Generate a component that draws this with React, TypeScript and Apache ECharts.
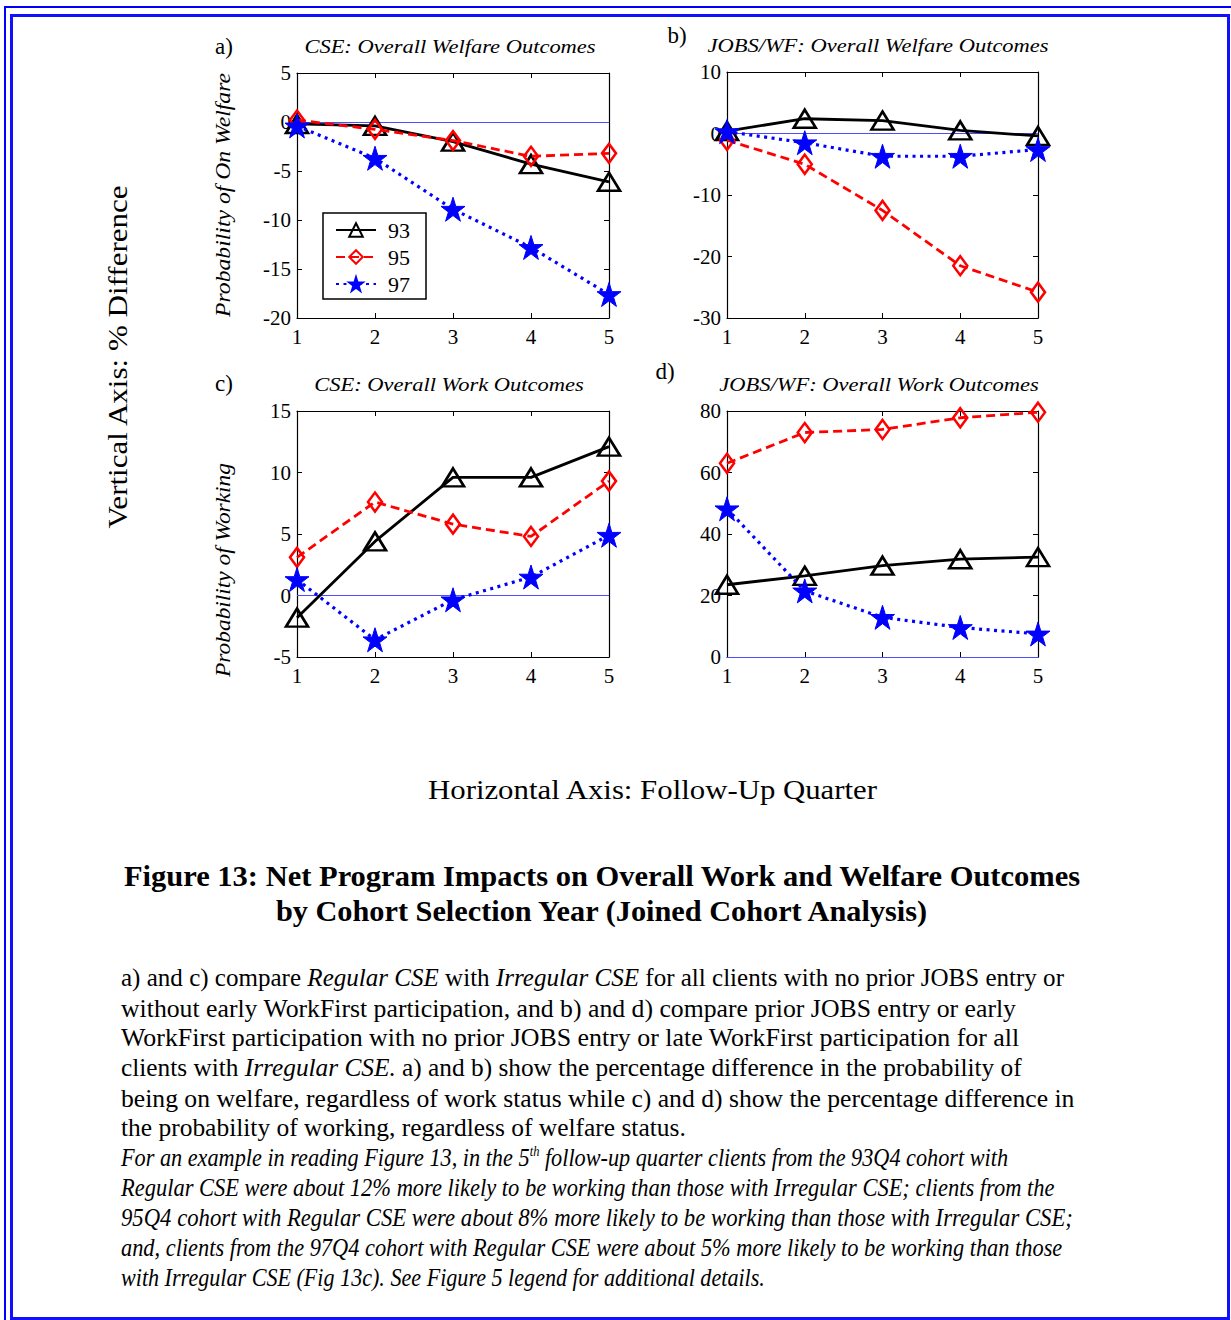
import React, { useEffect, useRef } from 'react';
import * as echarts from 'echarts';

// ---------------- data ----------------
const QUARTERS = [1, 2, 3, 4, 5];
const COHORTS = ['93', '95', '97'];

// a) CSE: Overall Welfare Outcomes
const WELFARE_CSE_93 = [-0.2, -0.4, -2.0, -4.3, -6.1];
const WELFARE_CSE_95 = [0.2, -0.75, -1.9, -3.5, -3.2];
const WELFARE_CSE_97 = [-0.4, -3.7, -8.9, -12.8, -17.6];
// b) JOBS/WF: Overall Welfare Outcomes
const WELFARE_JOBS_93 = [0.4, 2.4, 2.1, 0.5, -0.4];
const WELFARE_JOBS_95 = [-1.1, -5.0, -12.5, -21.5, -25.8];
const WELFARE_JOBS_97 = [0.3, -1.5, -3.7, -3.7, -2.6];
// c) CSE: Overall Work Outcomes
const WORK_CSE_93 = [-1.8, 4.4, 9.6, 9.6, 12.1];
const WORK_CSE_95 = [3.1, 7.6, 5.8, 4.8, 9.3];
const WORK_CSE_97 = [1.3, -3.6, -0.35, 1.5, 4.9];
// d) JOBS/WF: Overall Work Outcomes
const WORK_JOBS_93 = [23.5, 26.4, 29.7, 31.8, 32.5];
const WORK_JOBS_95 = [63.0, 73.0, 74.0, 77.8, 79.6];
const WORK_JOBS_97 = [48.2, 21.5, 12.9, 9.6, 7.5];

const PANEL_VALUES = [
  [WELFARE_CSE_93, WELFARE_CSE_95, WELFARE_CSE_97],
  [WELFARE_JOBS_93, WELFARE_JOBS_95, WELFARE_JOBS_97],
  [WORK_CSE_93, WORK_CSE_95, WORK_CSE_97],
  [WORK_JOBS_93, WORK_JOBS_95, WORK_JOBS_97],
];
const PANEL_TITLES = [
  'CSE: Overall Welfare Outcomes',
  'JOBS/WF: Overall Welfare Outcomes',
  'CSE: Overall Work Outcomes',
  'JOBS/WF: Overall Work Outcomes',
];
const PANEL_LETTERS = ['a)', 'b)', 'c)', 'd)'];
const Y_MIN = [-20, -30, -5, 0];
const Y_MAX = [5, 10, 15, 80];
const Y_STEP = [5, 10, 5, 20];
const Y_NAMES = ['Probability of On Welfare', '', 'Probability of Working', ''];

const VERTICAL_LABEL = 'Vertical Axis: % Difference';
const HORIZONTAL_LABEL = 'Horizontal Axis: Follow-Up Quarter';
const FIG_TITLE = [
  'Figure 13: Net Program Impacts on Overall Work and Welfare Outcomes',
  'by Cohort Selection Year (Joined Cohort Analysis)',
];

type Seg = [string, string];
const BODY_LINES: Seg[][] = [
  [['n', 'a) and c) compare '], ['i', 'Regular CSE'], ['n', ' with '], ['i', 'Irregular CSE'], ['n', ' for all clients with no prior JOBS entry or']],
  [['n', 'without early WorkFirst participation, and b) and d) compare prior JOBS entry or early']],
  [['n', 'WorkFirst participation with no prior JOBS entry or late WorkFirst participation for all']],
  [['n', 'clients with '], ['i', 'Irregular CSE.'], ['n', ' a) and b) show the percentage difference in the probability of']],
  [['n', 'being on welfare, regardless of work status while c) and d) show the percentage difference in']],
  [['n', 'the probability of working, regardless of welfare status.']],
  [['i', 'For an example in reading Figure 13, in the 5'], ['s', 'th'], ['i', ' follow-up quarter clients from the 93Q4 cohort with']],
  [['i', 'Regular CSE were about 12% more likely to be working than those with Irregular CSE; clients from the']],
  [['i', '95Q4 cohort with Regular CSE were about 8% more likely to be working than those with Irregular CSE;']],
  [['i', 'and, clients from the 97Q4 cohort with Regular CSE were about 5% more likely to be working than those']],
  [['i', 'with Irregular CSE (Fig 13c). See Figure 5 legend for additional details.']],
];

// ---------------- layout ----------------
const SERIF = '"Liberation Serif", "Times New Roman", serif';
const GRIDS = [
  { left: 297, top: 73, width: 312, height: 245 },
  { left: 727, top: 72, width: 311, height: 246 },
  { left: 297, top: 411, width: 312, height: 246 },
  { left: 727, top: 411, width: 311, height: 246 },
];
const TITLE_POS = [[450, 47], [878, 46], [449, 385], [879, 385]];
const TITLE_W = [316, 375, 295, 352];
const LETTER_POS = [[224, 46], [677, 35], [224, 383], [665, 371]];
const YNAME_POS = [[223, 195], [0, 0], [223, 570], [0, 0]];
const YNAME_W = [244, 0, 214, 0];
const BODY_LEFT = 121;
const BODY_TOP = 978;
const BODY_STEP = 30;
const BODY_RIGHT = [1064, 1017, 1020, 1022, 1075, 686, 1008, 1055, 1073, 1063, 765];

const STAR =
  'path://M0,-10L2.245,-3.09L9.51,-3.09L3.633,1.18L5.88,8.09L0,3.82L-5.88,8.09L-3.633,1.18L-9.51,-3.09L-2.245,-3.09Z';

const SERIES_STYLE = [
  {
    symbol: 'triangle',
    symbolSize: [22, 18],
    itemStyle: { color: 'rgba(255,255,255,0)', borderColor: '#000', borderWidth: 2.6 },
    lineStyle: { color: '#000', width: 2.8, type: 'solid' },
  },
  {
    symbol: 'diamond',
    symbolSize: [14, 19],
    itemStyle: { color: 'rgba(255,255,255,0)', borderColor: '#ff0000', borderWidth: 2.6 },
    lineStyle: { color: '#ff0000', width: 2.8, type: [9, 5] },
  },
  {
    symbol: STAR,
    symbolSize: 24,
    itemStyle: { color: '#0000ff', borderColor: '#0000ff', borderWidth: 1 },
    lineStyle: { color: '#0000ff', width: 3.2, type: [3, 4.5] },
  },
];

let measureCtx: CanvasRenderingContext2D | null = null;
function measure(text: string, font: string): number {
  if (!measureCtx) measureCtx = document.createElement('canvas').getContext('2d');
  if (!measureCtx) return text.length * 10;
  measureCtx.font = font;
  return measureCtx.measureText(text).width;
}
function fontStr(size: number, italic: boolean, bold: boolean) {
  return `${italic ? 'italic ' : ''}${bold ? 'bold ' : ''}${size}px "Liberation Serif"`;
}

function buildGraphic() {
  const els: any[] = [];
  const fitted = (text: string, size: number, italic: boolean, bold: boolean, width: number) =>
    width / measure(text, fontStr(size, italic, bold));

  // frame
  els.push({
    type: 'rect', silent: true,
    shape: { x: 5, y: 7, width: 1260, height: 1400 },
    style: { fill: 'none', stroke: '#0000ff', lineWidth: 2 },
  });
  els.push({
    type: 'rect', silent: true,
    shape: { x: 11.5, y: 15.5, width: 1217, height: 1303 },
    style: { fill: 'none', stroke: '#1010ff', lineWidth: 3 },
  });

  // panel letters, titles, y names
  for (let i = 0; i < 4; i++) {
    els.push({
      type: 'text', silent: true, x: LETTER_POS[i][0], y: LETTER_POS[i][1],
      style: { text: PANEL_LETTERS[i], fontFamily: SERIF, fontSize: 23, fill: '#000', align: 'center', verticalAlign: 'middle' },
    });
    const tScale = Math.min(1.25, fitted(PANEL_TITLES[i], 18, true, false, TITLE_W[i]));
    els.push({
      type: 'text', silent: true, x: TITLE_POS[i][0], y: TITLE_POS[i][1], scaleX: tScale,
      style: { text: PANEL_TITLES[i], fontFamily: SERIF, fontSize: 18, fontStyle: 'italic', fill: '#000', align: 'center', verticalAlign: 'middle' },
    });
    if (Y_NAMES[i]) {
      const yScale = Math.min(1.2, fitted(Y_NAMES[i], 21, true, false, YNAME_W[i]));
      els.push({
        type: 'text', silent: true, x: YNAME_POS[i][0], y: YNAME_POS[i][1], rotation: Math.PI / 2, scaleX: yScale,
        style: { text: Y_NAMES[i], fontFamily: SERIF, fontSize: 21, fontStyle: 'italic', fill: '#000', align: 'center', verticalAlign: 'middle' },
      });
    }
  }

  // vertical axis label
  els.push({
    type: 'text', silent: true, x: 118, y: 357, rotation: Math.PI / 2,
    scaleX: fitted(VERTICAL_LABEL, 27, false, false, 345),
    style: { text: VERTICAL_LABEL, fontFamily: SERIF, fontSize: 27, fill: '#000', align: 'center', verticalAlign: 'middle' },
  });
  // horizontal axis label
  els.push({
    type: 'text', silent: true, x: 652.5, y: 790,
    scaleX: fitted(HORIZONTAL_LABEL, 27, false, false, 451),
    style: { text: HORIZONTAL_LABEL, fontFamily: SERIF, fontSize: 27, fill: '#000', align: 'center', verticalAlign: 'middle' },
  });
  // figure title
  const titleW = [958, 655];
  const titleX = [602, 601.5];
  const titleY = [876, 911];
  FIG_TITLE.forEach((t, k) => {
    els.push({
      type: 'text', silent: true, x: titleX[k], y: titleY[k],
      scaleX: fitted(t, 30, false, true, titleW[k]),
      style: { text: t, fontFamily: SERIF, fontSize: 30, fontWeight: 'bold', fill: '#000', align: 'center', verticalAlign: 'middle' },
    });
  });

  // body text
  const BS = 25;
  const rich: any = {
    n: { fontFamily: SERIF, fontSize: BS, fontStyle: 'normal', fill: '#000', lineHeight: 28 },
    i: { fontFamily: SERIF, fontSize: BS, fontStyle: 'italic', fill: '#000', lineHeight: 28 },
    s: { fontFamily: SERIF, fontSize: 14, fontStyle: 'italic', fill: '#000', lineHeight: 16, verticalAlign: 'top' },
  };
  BODY_LINES.forEach((segs, k) => {
    let w = 0;
    segs.forEach(([st, t]) => {
      w += measure(t, fontStr(st === 's' ? 14 : BS, st !== 'n', false));
    });
    const target = BODY_RIGHT[k] - BODY_LEFT;
    els.push({
      type: 'text', silent: true, x: BODY_LEFT, y: BODY_TOP + k * BODY_STEP,
      scaleX: target / w,
      style: {
        text: segs.map(([st, t]) => `{${st}|${t}}`).join(''),
        rich, fontFamily: SERIF, fontSize: BS, fill: '#000', align: 'left', verticalAlign: 'middle',
      },
    });
  });
  return els;
}

function buildOption() {
  const xAxis: any[] = [];
  const yAxis: any[] = [];
  const series: any[] = [];
  const axisLine = { show: true, onZero: false, lineStyle: { color: '#000', width: 1.2 } };
  const axisTick = { show: true, inside: true, length: 5, lineStyle: { color: '#000', width: 1 } };
  const label = { fontSize: 21, fontFamily: SERIF, color: '#000' };
  for (let i = 0; i < 4; i++) {
    const common = { gridIndex: i, type: 'value', min: 1, max: 5, interval: 1, axisLine, axisTick, splitLine: { show: false } };
    xAxis.push({ ...common, position: 'bottom', axisLabel: { ...label, margin: 8, showMinLabel: true, showMaxLabel: true } });
    xAxis.push({ ...common, position: 'top', axisLabel: { show: false } });
    const ycommon = { gridIndex: i, type: 'value', min: Y_MIN[i], max: Y_MAX[i], interval: Y_STEP[i], axisLine, axisTick, splitLine: { show: false } };
    yAxis.push({ ...ycommon, position: 'left', axisLabel: { ...label, margin: 6, showMinLabel: true, showMaxLabel: true } });
    yAxis.push({ ...ycommon, position: 'right', axisLabel: { show: false } });

    PANEL_VALUES[i].forEach((vals, c) => {
      const st = SERIES_STYLE[c];
      const s: any = {
        type: 'line',
        name: COHORTS[c],
        xAxisIndex: 2 * i,
        yAxisIndex: 2 * i,
        data: QUARTERS.map((q, k) => [q, vals[k]]),
        symbol: st.symbol,
        symbolSize: st.symbolSize,
        showSymbol: true,
        clip: false,
        itemStyle: st.itemStyle,
        lineStyle: st.lineStyle,
        emphasis: { disabled: true },
        z: 2 + c,
      };
      if (c === 0) {
        s.markLine = {
          silent: true,
          symbol: ['none', 'none'],
          label: { show: false },
          lineStyle: { color: '#4d4dff', width: 1, type: 'solid' },
          data: [{ yAxis: 0 }],
          z: 1,
        };
      }
      series.push(s);
    });
  }

  return {
    animation: false,
    backgroundColor: '#ffffff',
    grid: GRIDS.map((g) => ({ ...g, containLabel: false })),
    xAxis,
    yAxis,
    series,
    legend: {
      left: 323,
      top: 213,
      orient: 'vertical',
      data: COHORTS,
      itemWidth: 40,
      itemHeight: 17,
      itemGap: 5,
      padding: [6, 16, 4, 12],
      borderColor: '#000',
      borderWidth: 1.5,
      backgroundColor: '#fff',
      selectedMode: false,
      textStyle: { fontSize: 22, fontFamily: SERIF, color: '#000', padding: [0, 0, 0, 7] },
      z: 10,
    },
    graphic: { elements: buildGraphic() },
  };
}

export default function App() {
  const ref = useRef<HTMLDivElement>(null);
  useEffect(() => {
    if (!ref.current) return;
    const chart = echarts.init(ref.current, undefined, { renderer: 'svg' });
    chart.setOption(buildOption() as any);
    return () => chart.dispose();
  }, []);
  return (
    <div
      ref={ref}
      style={{ position: 'absolute', left: 0, top: 0, width: 1231, height: 1320, background: '#fff' }}
    />
  );
}
